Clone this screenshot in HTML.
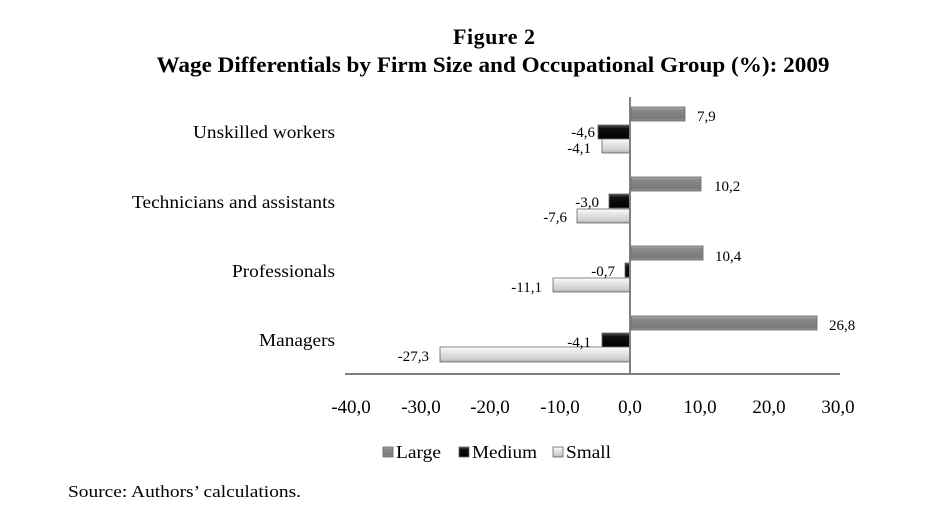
<!DOCTYPE html>
<html><head><style>body{margin:0;background:#fff}svg{display:block}text{font-family:"Liberation Serif",serif;fill:#000}</style></head><body>
<svg width="937" height="522" viewBox="0 0 937 522">
<defs>
<linearGradient id="gL" x1="0" y1="0" x2="0" y2="1"><stop offset="0" stop-color="#b0b0b0"/><stop offset="0.2" stop-color="#8a8a8a"/><stop offset="0.8" stop-color="#7a7a7a"/><stop offset="1" stop-color="#9a9a9a"/></linearGradient>
<linearGradient id="gM" x1="0" y1="0" x2="0" y2="1"><stop offset="0" stop-color="#555"/><stop offset="0.25" stop-color="#111"/><stop offset="1" stop-color="#000"/></linearGradient>
<linearGradient id="gS" x1="0" y1="0" x2="0" y2="1"><stop offset="0" stop-color="#fff"/><stop offset="0.3" stop-color="#e8e8e8"/><stop offset="0.8" stop-color="#cfcfcf"/><stop offset="1" stop-color="#aaa"/></linearGradient>
</defs>
<text x="494" y="44" font-size="22" font-weight="bold" text-anchor="middle" textLength="82">Figure 2</text>
<text x="493" y="72" font-size="22" font-weight="bold" text-anchor="middle" textLength="673" lengthAdjust="spacingAndGlyphs">Wage Differentials by Firm Size and Occupational Group (%): 2009</text>
<g font-size="18" text-anchor="end">
<text x="335" y="138" textLength="142" lengthAdjust="spacingAndGlyphs">Unskilled workers</text>
<text x="335" y="208" textLength="203" lengthAdjust="spacingAndGlyphs">Technicians and assistants</text>
<text x="335" y="277" textLength="103" lengthAdjust="spacingAndGlyphs">Professionals</text>
<text x="335" y="346" textLength="76" lengthAdjust="spacingAndGlyphs">Managers</text>
</g>
<g stroke="#666" stroke-width="0.8">
<rect x="631" y="107" width="54" height="14" fill="url(#gL)"/>
<rect x="598" y="125" width="32" height="14" fill="url(#gM)"/>
<rect x="602" y="139" width="28" height="14" fill="url(#gS)"/>
<rect x="631" y="177" width="70" height="14" fill="url(#gL)"/>
<rect x="609" y="194" width="21" height="14" fill="url(#gM)"/>
<rect x="577" y="209" width="53" height="14" fill="url(#gS)"/>
<rect x="631" y="246" width="72" height="14" fill="url(#gL)"/>
<rect x="625" y="263" width="5" height="14" fill="url(#gM)"/>
<rect x="553" y="278" width="77" height="14" fill="url(#gS)"/>
<rect x="631" y="316" width="186" height="14" fill="url(#gL)"/>
<rect x="602" y="333" width="28" height="14" fill="url(#gM)"/>
<rect x="440" y="347" width="190" height="15" fill="url(#gS)"/>
</g>
<line x1="630" y1="97" x2="630" y2="374" stroke="#808080" stroke-width="2"/>
<line x1="345" y1="374" x2="840" y2="374" stroke="#808080" stroke-width="2"/>
<g font-size="15">
<text x="697" y="121">7,9</text>
<text x="595" y="137" text-anchor="end">-4,6</text>
<text x="591" y="153" text-anchor="end">-4,1</text>
<text x="714" y="191">10,2</text>
<text x="599" y="207" text-anchor="end">-3,0</text>
<text x="567" y="222" text-anchor="end">-7,6</text>
<text x="715" y="261">10,4</text>
<text x="615" y="276" text-anchor="end">-0,7</text>
<text x="542" y="292" text-anchor="end">-11,1</text>
<text x="829" y="330">26,8</text>
<text x="591" y="347" text-anchor="end">-4,1</text>
<text x="429" y="361" text-anchor="end">-27,3</text>
</g>
<g font-size="19" text-anchor="middle">
<text x="351" y="413">-40,0</text><text x="421" y="413">-30,0</text><text x="490" y="413">-20,0</text><text x="560" y="413">-10,0</text><text x="630" y="413">0,0</text><text x="700" y="413">10,0</text><text x="769" y="413">20,0</text><text x="838" y="413">30,0</text>
</g>
<rect x="383" y="447" width="10" height="10" fill="url(#gL)" stroke="#666" stroke-width="0.8"/>
<text x="396" y="458" font-size="18" textLength="45" lengthAdjust="spacingAndGlyphs">Large</text>
<rect x="459" y="447" width="10" height="10" fill="url(#gM)" stroke="#666" stroke-width="0.8"/>
<text x="472" y="458" font-size="18" textLength="65" lengthAdjust="spacingAndGlyphs">Medium</text>
<rect x="553" y="447" width="10" height="10" fill="url(#gS)" stroke="#666" stroke-width="0.8"/>
<text x="566" y="458" font-size="18" textLength="45" lengthAdjust="spacingAndGlyphs">Small</text>
<text x="68" y="497" font-size="17" textLength="233" lengthAdjust="spacingAndGlyphs">Source: Authors’ calculations.</text>
</svg>
</body></html>
